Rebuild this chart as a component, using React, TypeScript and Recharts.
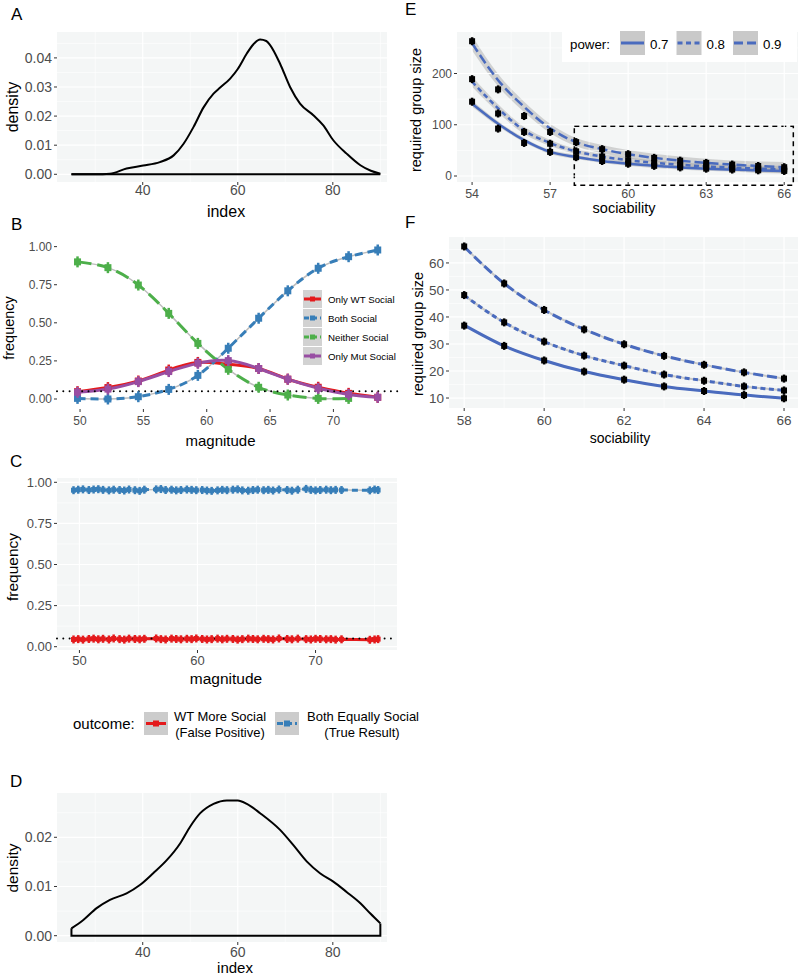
import React from "react";
import {
  ComposedChart, Line, Area, XAxis, YAxis, CartesianGrid, ReferenceLine, ReferenceArea,
} from "recharts";

const FONT = '"Liberation Sans", Arial, Helvetica, sans-serif';
const PANEL_BG = "#F4F6F6";
const TICK_GREY = "#4D4D4D";
const RED = "#E41A1C";
const BLUE = "#377EB8";
const GREEN = "#4DAF4A";
const PURPLE = "#984EA3";
const FIT_BLUE = "#4A6BBE";
const SMOOTH_GREY = "#BDBDBD";

// ---- A: density of index
const aIndex = [25, 30, 33.1, 36.6, 40.1, 43.6, 46.5, 48.6, 50.7, 52.8, 54.9, 56.3, 58.4, 60, 61.9, 63.3, 64.7, 66.0, 66.8, 68.9, 71, 73.1, 75.9, 78, 80.1, 82.9, 85.8, 88, 90];
const aDensity = [0, 0, 0.0002, 0.002, 0.003, 0.0042, 0.0065, 0.0105, 0.0163, 0.023, 0.0277, 0.0298, 0.0329, 0.0362, 0.0415, 0.0447, 0.0463, 0.0458, 0.0444, 0.038, 0.030, 0.0243, 0.0203, 0.0168, 0.0117, 0.0071, 0.0031, 0.0012, 0.0002];
const aRange = [25, 90];
const aXTicks = [40, 60, 80];
const aXMinor = [30, 50, 70, 90];
const aYTicks = [0, 0.01, 0.02, 0.03, 0.04];
const aYMinor = [0.005, 0.015, 0.025, 0.035, 0.045];

// ---- B: outcome frequency by magnitude
const bMag = [49.8, 52.2, 54.6, 57.0, 59.3, 61.7, 64.1, 66.4, 68.8, 71.2, 73.5];
const bWT = [0.048, 0.075, 0.118, 0.19, 0.24, 0.228, 0.2, 0.13, 0.077, 0.037, 0.011];
const bBoth = [0.004, 0.0, 0.015, 0.063, 0.155, 0.333, 0.53, 0.71, 0.858, 0.934, 0.978];
const bNeither = [0.90, 0.862, 0.748, 0.562, 0.365, 0.195, 0.077, 0.026, 0.004, 0.004];
const bMut = [0.044, 0.065, 0.114, 0.18, 0.234, 0.252, 0.2, 0.13, 0.07, 0.03, 0.011];
const bXTicks = [50, 55, 60, 65, 70];
const freqTicks = [0, 0.25, 0.5, 0.75, 1];
const alphaLevel = 0.05;

// ---- C: false positive vs true result
const cMag = [
  49.5, 49.9, 50.3, 50.8, 51.2, 51.6, 52.0, 52.5, 52.9, 53.4,
  53.8, 54.2, 54.7, 55.1, 55.5, 56.5, 56.9, 57.3, 57.8, 58.2,
  58.6, 59.1, 59.5, 59.9, 60.4, 60.8, 61.2, 61.7, 62.1, 62.5,
  63.0, 63.4, 63.8, 64.3, 64.7, 65.1, 65.6, 66.0, 66.4, 66.9,
  67.6, 68.0, 68.5, 69.2, 69.6, 70.0, 70.4, 70.9, 71.3, 71.7,
  72.2, 74.6, 75.0, 75.3,
];
const cBoth = [
  0.952, 0.955, 0.957, 0.953, 0.956, 0.958, 0.954, 0.951, 0.955, 0.953,
  0.950, 0.956, 0.952, 0.948, 0.955, 0.957, 0.959, 0.953, 0.955, 0.951,
  0.953, 0.956, 0.954, 0.952, 0.953, 0.950, 0.948, 0.951, 0.954, 0.952,
  0.955, 0.957, 0.951, 0.949, 0.953, 0.955, 0.952, 0.954, 0.950, 0.956,
  0.953, 0.949, 0.955, 0.960, 0.954, 0.951, 0.953, 0.955, 0.952, 0.954,
  0.953, 0.951, 0.956, 0.953,
];
const cWT = [
  0.044, 0.046, 0.043, 0.047, 0.049, 0.045, 0.048, 0.044, 0.050, 0.046,
  0.043, 0.049, 0.047, 0.045, 0.048, 0.050, 0.046, 0.044, 0.049, 0.047,
  0.045, 0.048, 0.046, 0.050, 0.047, 0.044, 0.046, 0.049, 0.045, 0.048,
  0.047, 0.043, 0.046, 0.049, 0.047, 0.045, 0.048, 0.046, 0.044, 0.050,
  0.047, 0.045, 0.049, 0.046, 0.044, 0.048, 0.047, 0.045, 0.046, 0.043,
  0.045, 0.042, 0.044, 0.046,
];
const cXTicks = [50, 60, 70];
const cXMinor = [55, 65, 75];
const freqMinor = [0.125, 0.375, 0.625, 0.875];

// ---- D: density of index (second sample)
const dIndex = [25, 27.5, 30.3, 33.1, 36.6, 39.4, 42.2, 45.1, 47.9, 50, 52.1, 54.9, 57.7, 60, 61.9, 64.7, 68.9, 71.7, 74.5, 77.3, 80.1, 82.9, 85.8, 87.9, 90];
const dDensity = [0.0015, 0.0032, 0.0056, 0.0073, 0.0086, 0.0103, 0.0127, 0.0154, 0.0188, 0.0222, 0.0249, 0.0268, 0.0275, 0.0275, 0.0268, 0.0249, 0.0215, 0.0184, 0.0151, 0.0127, 0.011, 0.0089, 0.0066, 0.0045, 0.0025];
const dYTicks = [0, 0.01, 0.02];
const dYMinor = [0.005, 0.015, 0.025];

// ---- E / F: required group size by sociability
const sociability = [54, 55, 56, 57, 58, 59, 60, 61, 62, 63, 64, 65, 66];
const pts7 = [145, 92.5, 64.5, 47, 36.8, 29.3, 23.9, 19.8, 16.8, 14.3, 12.6, 11.1, 9.9];
const pts8 = [189, 122, 86, 63, 48.1, 38, 30.9, 25.7, 22.0, 18.7, 16.4, 14.3, 12.8];
const pts9 = [263, 169, 117, 86, 66.1, 52.4, 42.6, 35.4, 29.9, 25.6, 22.3, 19.5, 17.2];
const fit7 = [141, 102, 70, 47, 37, 29.3, 23.9, 19.8, 16.8, 14.3, 12.6, 11.1, 9.9];
const fit8 = [184, 132, 89, 64.5, 48, 38, 30.9, 25.7, 22.0, 18.7, 16.4, 14.3, 12.8];
const fit9 = [259, 187, 135, 93, 66, 52.4, 42.6, 35.4, 29.9, 25.6, 22.3, 19.5, 17.2];
const band7 = [6, 5, 4, 4, 4, 4, 4, 4, 4, 4, 4, 5, 5];
const band8 = [10, 8, 7, 6, 5, 5, 5, 5, 5, 5, 5, 6, 7];
const band9 = [14, 12, 10, 9, 8, 8, 8, 8, 8, 8, 8, 9, 10];
const eXTicks = [54, 57, 60, 63, 66];
const eXMinor = [55.5, 58.5, 61.5, 64.5];
const eYTicks = [0, 100, 200];
const eYMinor = [50, 150, 250];
const zoomBox = { x1: 57.93, x2: 66.35, y1: -18, y2: 97 };
const fXTicks = [58, 60, 62, 64, 66];
const fXMinor = [59, 61, 63, 65];
const fYTicks = [10, 20, 30, 40, 50, 60];
const fYMinor = [15, 25, 35, 45, 55, 65];

const toXY = (xs: number[], ys: number[]) => ys.map((y, i) => ({ x: xs[i], y }));

type Box = { l: number; t: number; r: number; b: number };
const A_BOX: Box = { l: 57, t: 32, r: 387, b: 182 };
const B_BOX: Box = { l: 57, t: 241, r: 398, b: 409 };
const C_BOX: Box = { l: 57, t: 478, r: 397, b: 650 };
const D_BOX: Box = { l: 57, t: 793, r: 387, b: 942 };
const E_BOX: Box = { l: 457, t: 32, r: 798, b: 182 };
const F_BOX: Box = { l: 449, t: 237, r: 798, b: 408 };

const f2 = (v: number) => v.toFixed(2);
const f0 = (v: number) => String(v);

const xAxisProps = (ticks: number[], domain: [number, number], fs: number, tm: number) => ({
  type: "number" as const, dataKey: "x", domain, ticks, allowDataOverflow: true, interval: 0 as const,
  tickSize: 3, tickMargin: tm, height: 30, axisLine: false, tickLine: { stroke: "#333" },
  tick: { fill: TICK_GREY, fontSize: fs, fontFamily: FONT },
});
const yAxisProps = (ticks: number[], domain: [number, number], fs: number, w: number, fmt: (v: number) => string) => ({
  type: "number" as const, domain, ticks, allowDataOverflow: true, interval: 0 as const,
  tickSize: 3, tickMargin: 2, width: w, axisLine: false, tickLine: { stroke: "#333" },
  tick: { fill: TICK_GREY, fontSize: fs, fontFamily: FONT }, tickFormatter: fmt,
});

function gridLines(xMajor: number[], xMinor: number[], yMajor: number[], yMinor: number[]) {
  return [
    ...xMinor.map((v) => <ReferenceLine key={"xm" + v} x={v} stroke="#fff" strokeWidth={0.6} />),
    ...yMinor.map((v) => <ReferenceLine key={"ym" + v} y={v} stroke="#fff" strokeWidth={0.6} />),
    ...xMajor.map((v) => <ReferenceLine key={"xM" + v} x={v} stroke="#fff" strokeWidth={1.2} />),
    ...yMajor.map((v) => <ReferenceLine key={"yM" + v} y={v} stroke="#fff" strokeWidth={1.2} />),
  ];
}

// square marker with a short vertical error bar
const marker = (color: string, s: number, eb: number) => (p: any) => {
  const { cx, cy, index } = p;
  if (cx == null || cy == null) return <g key={"m" + index} />;
  return (
    <g key={"m" + index}>
      <line x1={cx} x2={cx} y1={cy - eb} y2={cy + eb} stroke={color} strokeWidth={2.5} />
      <rect x={cx - s / 2} y={cy - s / 2} width={s} height={s} fill={color} />
    </g>
  );
};

function Frame({ box, yw, children }: { box: Box; yw: number; children: React.ReactNode }) {
  const w = yw + box.r - box.l + 4;
  const h = 4 + box.b - box.t + 30;
  return (
    <div style={{ position: "absolute", left: box.l - yw, top: box.t - 4 }}>
      <ComposedChart width={w} height={h} margin={{ top: 4, right: 4, bottom: 0, left: 0 }}>
        {children}
      </ComposedChart>
    </div>
  );
}

const bSeries = [
  { name: "Only WT Social", color: RED, values: bWT, dash: undefined },
  { name: "Both Social", color: BLUE, values: bBoth, dash: "8 5" },
  { name: "Neither Social", color: GREEN, values: bNeither, dash: "14 6" },
  { name: "Only Mut Social", color: PURPLE, values: bMut, dash: undefined },
];

const eSeries = [
  { name: "0.7", pts: pts7, fit: fit7, band: band7, dash: undefined },
  { name: "0.8", pts: pts8, fit: fit8, band: band8, dash: "5 3.5" },
  { name: "0.9", pts: pts9, fit: fit9, band: band9, dash: "10 4" },
];

function Overlay() {
  const title = (x: number, y: number, s: string, fs: number, rot = false) => (
    <text x={x} y={y} fontSize={fs} textAnchor="middle" dominantBaseline="central" fill="#000"
      transform={rot ? `rotate(-90 ${x} ${y})` : undefined}>{s}</text>
  );
  return (
    <svg width={800} height={976} fontFamily={FONT}
      style={{ position: "absolute", left: 0, top: 0, pointerEvents: "none", overflow: "visible" }}>
      <text x={11} y={20} fontSize={17}>A</text>
      <text x={11} y={230} fontSize={17}>B</text>
      <text x={10} y={467} fontSize={17}>C</text>
      <text x={10} y={787} fontSize={17}>D</text>
      <text x={405} y={15} fontSize={17}>E</text>
      <text x={405} y={228} fontSize={17}>F</text>

      {title(12.5, 107, "density", 16, true)}
      {title(226, 211, "index", 16)}
      {title(9, 328, "frequency", 14.5, true)}
      {title(220.5, 440, "magnitude", 15)}
      {title(12.5, 567, "frequency", 15.5, true)}
      {title(226, 678, "magnitude", 15.5)}
      {title(12.7, 868, "density", 15.5, true)}
      {title(235, 967, "index", 15)}
      {title(416, 110, "required group size", 14.5, true)}
      {title(624, 208, "sociability", 14.5)}
      {title(418, 334, "required group size", 14.5, true)}
      {title(620, 438, "sociability", 14)}

      {/* B legend */}
      {bSeries.map((s, i) => {
        const cy = 299 + i * 19;
        return (
          <g key={s.name}>
            <rect x={303} y={cy - 9} width={19} height={18} fill="#D2D2D2" />
            <line x1={304} x2={321} y1={cy} y2={cy} stroke={s.color} strokeWidth={3} strokeDasharray={s.dash ? "5 3" : undefined} />
            <rect x={310} y={cy - 2.5} width={5} height={5} fill={s.color} />
            <text x={328} y={cy} fontSize={9.7} dominantBaseline="central" fill="#000">{s.name}</text>
          </g>
        );
      })}

      {/* C legend */}
      <text x={73} y={723.5} fontSize={15} dominantBaseline="central" fill="#000">outcome:</text>
      <rect x={144} y={712} width={24} height={23} fill="#CCCCCC" />
      <line x1={146} x2={166} y1={723.5} y2={723.5} stroke={RED} strokeWidth={3} />
      <rect x={153} y={720.5} width={6} height={6} fill={RED} />
      <text x={220} y={716} fontSize={13} textAnchor="middle" dominantBaseline="central" fill="#000">WT More Social</text>
      <text x={220} y={732} fontSize={13} textAnchor="middle" dominantBaseline="central" fill="#000">(False Positive)</text>
      <rect x={275} y={712} width={24} height={23} fill="#CCCCCC" />
      <line x1={277} x2={297} y1={723.5} y2={723.5} stroke={BLUE} strokeWidth={3} strokeDasharray="6 3" />
      <rect x={284} y={720.5} width={6} height={6} fill={BLUE} />
      <text x={363} y={716} fontSize={13} textAnchor="middle" dominantBaseline="central" fill="#000">Both Equally Social</text>
      <text x={362} y={732} fontSize={13} textAnchor="middle" dominantBaseline="central" fill="#000">(True Result)</text>

      {/* E legend */}
      <rect x={562} y={28} width={235} height={34} fill="#fff" />
      <text x={570} y={44} fontSize={13.3} dominantBaseline="central" fill="#000">power:</text>
      {eSeries.map((s, i) => {
        const kx = 620 + i * 56.5;
        return (
          <g key={s.name}>
            <rect x={kx} y={31} width={25} height={24} fill="#C9C9C9" />
            <line x1={kx + 1} x2={kx + 24} y1={43} y2={43} stroke={FIT_BLUE} strokeWidth={3}
              strokeDasharray={s.dash ? (i === 1 ? "5 3.5" : "9 4") : undefined} />
            <text x={kx + 30} y={44} fontSize={13.3} dominantBaseline="central" fill="#000">{s.name}</text>
          </g>
        );
      })}
    </svg>
  );
}

export default function App() {
  const aCurve = toXY(aIndex, aDensity);
  const aBase = aRange.map((x) => ({ x, y: 0 }));
  const dCurve = toXY(dIndex, dDensity);
  const dEdges = [
    { x: dIndex[dIndex.length - 1], y: dDensity[dDensity.length - 1] },
    { x: dIndex[dIndex.length - 1], y: 0 },
    { x: dIndex[0], y: 0 },
    { x: dIndex[0], y: dDensity[0] },
  ];
  const cBothData = toXY(cMag, cBoth);
  const cWTData = toXY(cMag, cWT);
  const eData = eSeries.map((s) =>
    sociability.map((x, i) => ({ x, y: s.pts[i], fit: s.fit[i], band: [s.fit[i] - s.band[i], s.fit[i] + s.band[i]] })),
  );
  const fData = eData.map((rows) => rows.filter((r) => r.x >= 58));

  return (
    <div style={{ position: "absolute", left: 0, top: 0, width: 800, height: 976, background: "#fff", fontFamily: FONT }}>
      {/* A */}
      <Frame box={A_BOX} yw={57}>
        <CartesianGrid fill={PANEL_BG} stroke="none" horizontal={false} vertical={false} />
        <XAxis {...xAxisProps(aXTicks, [21.96, 91.4], 14, 0)} />
        <YAxis {...yAxisProps(aYTicks, [-0.00265, 0.0489], 14, 57, f2)} />
        {gridLines(aXTicks, aXMinor, aYTicks, aYMinor)}
        <Line data={aBase} dataKey="y" type="linear" stroke="#000" strokeWidth={2} dot={false} isAnimationActive={false} />
        <Line data={aCurve} dataKey="y" type="monotone" stroke="#000" strokeWidth={2} dot={false} isAnimationActive={false} />
      </Frame>

      {/* B */}
      <Frame box={B_BOX} yw={57}>
        <XAxis {...xAxisProps(bXTicks, [48.18, 75.1], 12, 4)} />
        <YAxis {...yAxisProps(freqTicks, [-0.0657, 1.037], 12, 57, f2)} />
        {bSeries.map((s) => (
          <Line key={"g" + s.name} data={toXY(bMag, s.values)} dataKey="y" type="natural" stroke={SMOOTH_GREY}
            strokeWidth={1.5} dot={false} isAnimationActive={false} />
        ))}
        {bSeries.map((s) => (
          <Line key={s.name} data={toXY(bMag, s.values)} dataKey="y" type="natural" stroke={s.color} strokeWidth={3}
            strokeDasharray={s.dash} dot={marker(s.color, 7, 5.5)} isAnimationActive={false} />
        ))}
        <ReferenceLine y={alphaLevel} stroke="#000" strokeWidth={2} strokeDasharray="0 6.3" strokeLinecap="round" />
      </Frame>

      {/* C */}
      <Frame box={C_BOX} yw={57}>
        <CartesianGrid fill={PANEL_BG} stroke="none" horizontal={false} vertical={false} />
        <XAxis {...xAxisProps(cXTicks, [48.1, 76.9], 13, 3)} />
        <YAxis {...yAxisProps(freqTicks, [-0.0201, 1.0262], 13, 57, f2)} />
        {gridLines(cXTicks, cXMinor, freqTicks, freqMinor)}
        <Line data={cBothData} dataKey="y" type="linear" stroke={SMOOTH_GREY} strokeWidth={1.5} dot={false} isAnimationActive={false} />
        <Line data={cBothData} dataKey="y" type="linear" stroke={BLUE} strokeWidth={3} strokeDasharray="6 4"
          dot={marker(BLUE, 5, 4)} isAnimationActive={false} />
        <Line data={cWTData} dataKey="y" type="linear" stroke={RED} strokeWidth={3} dot={marker(RED, 5, 4)} isAnimationActive={false} />
        <ReferenceLine y={alphaLevel} stroke="#000" strokeWidth={2} strokeDasharray="0 6.3" strokeLinecap="round" />
      </Frame>

      {/* D */}
      <Frame box={D_BOX} yw={57}>
        <CartesianGrid fill={PANEL_BG} stroke="none" horizontal={false} vertical={false} />
        <XAxis {...xAxisProps(aXTicks, [21.96, 91.4], 14, 2)} />
        <YAxis {...yAxisProps(dYTicks, [-0.00128, 0.029], 14, 57, f2)} />
        {gridLines(aXTicks, aXMinor, dYTicks, dYMinor)}
        <Line data={dEdges} dataKey="y" type="linear" stroke="#000" strokeWidth={2} dot={false} isAnimationActive={false} />
        <Line data={dCurve} dataKey="y" type="monotone" stroke="#000" strokeWidth={2} dot={false} isAnimationActive={false} />
      </Frame>

      {/* E */}
      <Frame box={E_BOX} yw={57}>
        <CartesianGrid fill={PANEL_BG} stroke="none" horizontal={false} vertical={false} />
        <XAxis {...xAxisProps(eXTicks, [53.42, 66.53], 12.5, 4)} />
        <YAxis {...yAxisProps(eYTicks, [-11.7, 281], 12, 57, f0)} />
        {gridLines(eXTicks, eXMinor, eYTicks, eYMinor)}
        {eSeries.map((s, i) => (
          <Area key={"band" + s.name} data={eData[i]} dataKey="band" type="monotone" fill="#9A9A9A" fillOpacity={0.4}
            stroke="none" isAnimationActive={false} />
        ))}
        {eSeries.map((s, i) => (
          <Line key={"fit" + s.name} data={eData[i]} dataKey="fit" type="monotone" stroke={FIT_BLUE} strokeWidth={2.5}
            strokeDasharray={s.dash} dot={false} isAnimationActive={false} />
        ))}
        {eSeries.map((s, i) => (
          <Line key={"pts" + s.name} data={eData[i]} dataKey="y" stroke="none" dot={marker("#000", 6, 4)}
            isAnimationActive={false} />
        ))}
        <ReferenceArea x1={zoomBox.x1} x2={zoomBox.x2} y1={zoomBox.y1} y2={zoomBox.y2} fill="none" fillOpacity={0}
          stroke="#000" strokeWidth={1.5} strokeDasharray="5 4" ifOverflow="visible" />
      </Frame>

      {/* F */}
      <Frame box={F_BOX} yw={449 - 400}>
        <CartesianGrid fill={PANEL_BG} stroke="none" horizontal={false} vertical={false} />
        <XAxis {...xAxisProps(fXTicks, [57.62, 66.35], 13.5, 4)} />
        <YAxis {...yAxisProps(fYTicks, [6.31, 69.6], 13.5, 49, f0)} />
        {gridLines(fXTicks, fXMinor, fYTicks, fYMinor)}
        {eSeries.map((s, i) => (
          <Line key={"gf" + s.name} data={fData[i]} dataKey="fit" type="monotone" stroke="#C8C8C8" strokeWidth={2}
            dot={false} isAnimationActive={false} />
        ))}
        {eSeries.map((s, i) => (
          <Line key={"ff" + s.name} data={fData[i]} dataKey="fit" type="monotone" stroke={FIT_BLUE} strokeWidth={3}
            strokeDasharray={s.dash} dot={false} isAnimationActive={false} />
        ))}
        {eSeries.map((s, i) => (
          <Line key={"fp" + s.name} data={fData[i]} dataKey="y" stroke="none" dot={marker("#000", 6, 4)}
            isAnimationActive={false} />
        ))}
      </Frame>

      <Overlay />
    </div>
  );
}
